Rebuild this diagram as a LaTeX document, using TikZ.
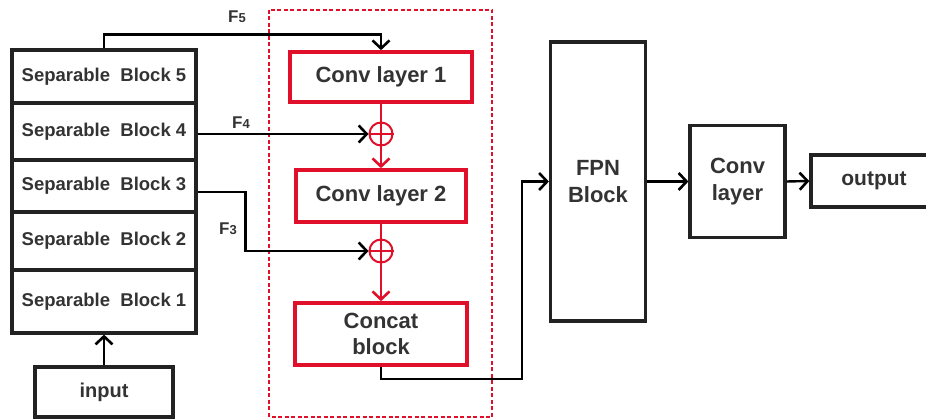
\documentclass[tikz,border=0pt]{standalone}
\usepackage{fontspec}
\setmainfont{Liberation Sans}
\usetikzlibrary{arrows.meta,calc}
\definecolor{txt}{HTML}{333333}
\definecolor{myred}{HTML}{E0102A}
\definecolor{boxk}{HTML}{222222}
\begin{document}
\begin{tikzpicture}[x=1pt,y=-1pt,
  box/.style={draw=boxk,line width=3.2pt,rectangle,inner sep=0pt,align=center,text=txt,font=\fontsize{22}{27}\selectfont\bfseries},
  sep/.style={box,minimum width=184pt,font=\fontsize{18.5}{22}\selectfont\bfseries},
  rbox/.style={box,draw=myred,line width=3.6pt,font=\fontsize{22}{26}\selectfont\bfseries},
  plus/.style={circle,draw=myred,line width=2pt,minimum size=23pt,inner sep=0pt},
  arr/.style={draw=black,line width=2.4pt,-{Straight Barb[length=8pt,width=17pt,line width=2.6pt]}},
  ln/.style={draw=black,line width=2.4pt},
  rarr/.style={draw=myred,line width=2.4pt,-{Straight Barb[length=8pt,width=17pt,line width=2.6pt]}},
  rln/.style={draw=myred,line width=2.4pt},
  lab/.style={text=txt,font=\fontsize{17}{20}\selectfont\bfseries,inner sep=0pt}
]
\useasboundingbox (0,0) rectangle (926,419);
% dashed group frame
\draw[myred,line width=1.5pt,dash pattern=on 4pt off 2.5pt] (269,10) rectangle (492,417);
% separable stack
\node[sep,minimum height=53pt] (b5) at (104,76.5) {Separable\ \ Block 5};
\node[sep,minimum height=57pt] (b4) at (104,131.5) {Separable\ \ Block 4};
\node[sep,minimum height=52pt] (b3) at (104,186) {Separable\ \ Block 3};
\node[sep,minimum height=58pt] (b2) at (104,241) {Separable\ \ Block 2};
\node[sep,minimum height=63pt] (b1) at (104,301.5) {Separable\ \ Block 1};
\node[box,minimum width=138pt,minimum height=50pt,font=\fontsize{20}{24}\selectfont\bfseries] (in) at (104,392) {input};
% red column
\node[rbox,minimum width=182pt,minimum height=50pt] (c1) at (381,77) {Conv layer 1};
\node[plus] (p1) at (381,134) {};
\node[rbox,minimum width=170pt,minimum height=52pt] (c2) at (381,196) {Conv layer 2};
\node[plus] (p2) at (381,251) {};
\node[rbox,minimum width=172pt,minimum height=62pt] (cc) at (381,334) {Concat\\block};
\draw[myred,line width=2pt] (p1.north) -- (p1.south) (p1.west) -- (p1.east);
\draw[myred,line width=2pt] (p2.north) -- (p2.south) (p2.west) -- (p2.east);
% right part
\node[box,minimum width=95pt,minimum height=279pt] (fpn) at (598,181.5) {FPN\\Block};
\node[box,minimum width=95pt,minimum height=112pt] (cl) at (737.5,181.5) {Conv\\layer};
\node[box,minimum width=126pt,minimum height=52pt,font=\fontsize{21}{25}\selectfont\bfseries] (out) at (874,181) {output};
% labels
\node[lab] (f5) at (237,17) {F{\fontsize{13}{15}\selectfont 5}};
\node[lab] (f4) at (241,123) {F{\fontsize{13}{15}\selectfont 4}};
\node[lab] (f3) at (228,229) {F{\fontsize{13}{15}\selectfont 3}};
% connectors
\coordinate (k) at (522,379);
\draw[arr] (in.north) -- (b1.south);
\draw[arr] (b5.north) -- ++(0,-14) -| (c1.north);
\draw[arr] (b4.east |- p1.west) -- (p1.west);
\draw[arr] ([yshift=-6pt]b3.east) -- ++(48,0) |- (p2.west);
\draw[rln] (c1.south) -- (p1.north);
\draw[rarr] (p1.south) -- (c2.north);
\draw[rln] (c2.south) -- (p2.north);
\draw[rarr] (p2.south) -- (cc.north);
\draw[arr] (cc.south) |- (k) |- (fpn.west);
\draw[arr] (fpn.east) -- (cl.west);
\draw[arr] (cl.east) -- (out.west);
\end{tikzpicture}
\end{document}
